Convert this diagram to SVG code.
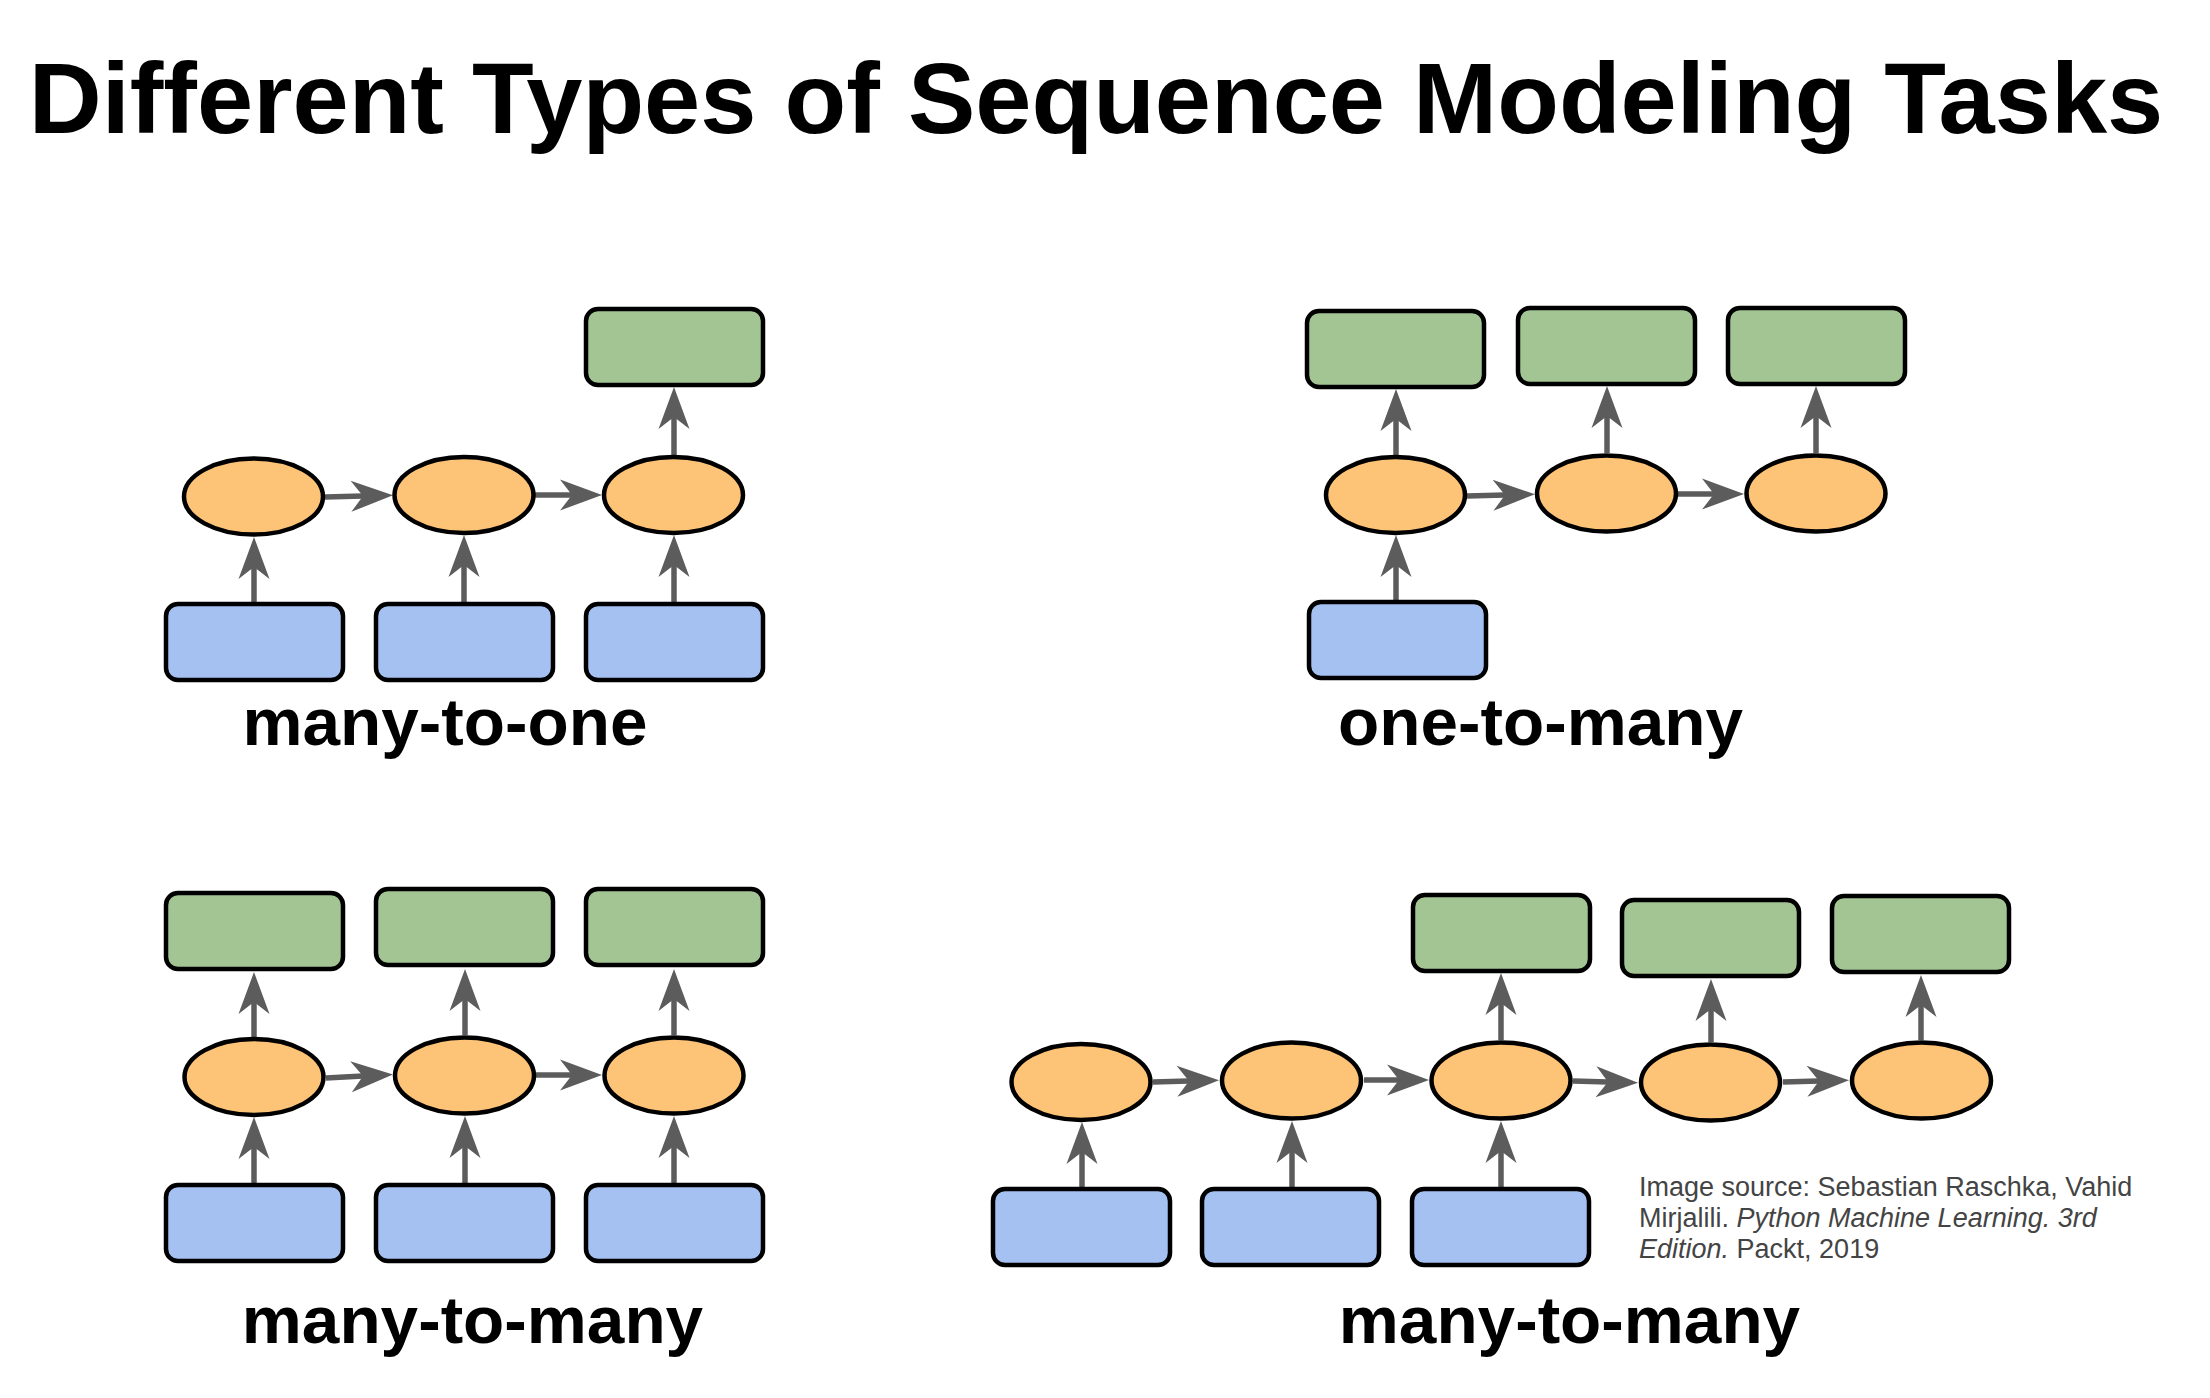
<svg xmlns="http://www.w3.org/2000/svg" width="2210" height="1398" viewBox="0 0 2210 1398">
<style>
.in{fill:#a5c1f2;stroke:#000;stroke-width:4.5}
.out{fill:#a3c594;stroke:#000;stroke-width:4.5}
.hid{fill:#fdc377;stroke:#000;stroke-width:4.5}
.c{stroke:#5c5c5c;stroke-width:5.5;fill:none;marker-end:url(#ah)}
.lbl{font-family:"Liberation Sans",Arial,sans-serif;font-weight:bold;font-size:67.5px;fill:#000;text-anchor:middle}
.title{font-family:"Liberation Sans",Arial,sans-serif;font-weight:bold;font-size:101px;fill:#000;text-anchor:middle}
.src{font-family:"Liberation Sans",Arial,sans-serif;font-size:27px;fill:#444}
</style>
<defs>
<marker id="ah" markerUnits="userSpaceOnUse" markerWidth="50" markerHeight="40" refX="12" refY="0" orient="auto" overflow="visible">
<path d="M42,0 L0,-15.5 L12,0 L0,15.5 Z" fill="#5c5c5c"/>
</marker>
<rect id="box" width="177" height="76" rx="12"/>
</defs>
<rect width="2210" height="1398" fill="#fff"/>
<text class="title" x="1096" y="133">Different Types of Sequence Modeling Tasks</text>

<g id="connectors">
<!-- many-to-one -->
<line class="c" x1="254" y1="604" x2="254" y2="567"/>
<line class="c" x1="464" y1="604" x2="464" y2="565"/>
<line class="c" x1="674" y1="604" x2="674" y2="565"/>
<line class="c" x1="674" y1="455" x2="674" y2="417"/>
<line class="c" x1="325" y1="497" x2="363" y2="496"/>
<line class="c" x1="535" y1="495" x2="572" y2="495"/>
<!-- one-to-many -->
<line class="c" x1="1396" y1="602" x2="1396" y2="565"/>
<line class="c" x1="1396" y1="455" x2="1396" y2="419"/>
<line class="c" x1="1607" y1="453" x2="1607" y2="416"/>
<line class="c" x1="1816" y1="453" x2="1816" y2="416"/>
<line class="c" x1="1467" y1="496" x2="1505" y2="495"/>
<line class="c" x1="1678" y1="494" x2="1714" y2="494"/>
<!-- many-to-many (left) -->
<line class="c" x1="254" y1="1185" x2="254" y2="1147"/>
<line class="c" x1="465" y1="1185" x2="465" y2="1146"/>
<line class="c" x1="674" y1="1185" x2="674" y2="1146"/>
<line class="c" x1="254" y1="1037" x2="254" y2="1002"/>
<line class="c" x1="465" y1="1035" x2="465" y2="999"/>
<line class="c" x1="674" y1="1035" x2="674" y2="999"/>
<line class="c" x1="326" y1="1078" x2="363" y2="1076"/>
<line class="c" x1="536" y1="1075" x2="572" y2="1075"/>
<!-- many-to-many (right) -->
<line class="c" x1="1082" y1="1189" x2="1082" y2="1152"/>
<line class="c" x1="1292" y1="1189" x2="1292" y2="1151"/>
<line class="c" x1="1501" y1="1189" x2="1501" y2="1151"/>
<line class="c" x1="1501" y1="1040" x2="1501" y2="1003"/>
<line class="c" x1="1711" y1="1042" x2="1711" y2="1009"/>
<line class="c" x1="1921" y1="1040" x2="1921" y2="1005"/>
<line class="c" x1="1153" y1="1082" x2="1189" y2="1081"/>
<line class="c" x1="1364" y1="1080" x2="1399" y2="1080"/>
<line class="c" x1="1573" y1="1081" x2="1608" y2="1082"/>
<line class="c" x1="1783" y1="1082" x2="1819" y2="1081"/>
</g>

<!-- many-to-one -->
<g id="m2o-out"><use href="#box" class="out" x="586" y="309"/></g>
<g id="m2o-h1"><ellipse class="hid" cx="253.5" cy="496.5" rx="69.5" ry="38"/></g>
<g id="m2o-h2"><ellipse class="hid" cx="464" cy="495" rx="69.5" ry="38"/></g>
<g id="m2o-h3"><ellipse class="hid" cx="673.5" cy="495" rx="69.5" ry="38"/></g>
<g id="m2o-in1"><use href="#box" class="in" x="166" y="604"/></g>
<g id="m2o-in2"><use href="#box" class="in" x="376" y="604"/></g>
<g id="m2o-in3"><use href="#box" class="in" x="586" y="604"/></g>
<text class="lbl" x="445" y="745">many-to-one</text>

<!-- one-to-many -->
<g id="o2m-out1"><use href="#box" class="out" x="1307" y="311"/></g>
<g id="o2m-out2"><use href="#box" class="out" x="1518" y="308"/></g>
<g id="o2m-out3"><use href="#box" class="out" x="1728" y="308"/></g>
<g id="o2m-h1"><ellipse class="hid" cx="1395.5" cy="495" rx="69.5" ry="38"/></g>
<g id="o2m-h2"><ellipse class="hid" cx="1606.5" cy="493.5" rx="69.5" ry="38"/></g>
<g id="o2m-h3"><ellipse class="hid" cx="1816" cy="493.5" rx="69.5" ry="38"/></g>
<g id="o2m-in1"><use href="#box" class="in" x="1309" y="602"/></g>
<text class="lbl" x="1540.5" y="745">one-to-many</text>

<!-- many-to-many left -->
<g id="m2mA-out1"><use href="#box" class="out" x="166" y="893"/></g>
<g id="m2mA-out2"><use href="#box" class="out" x="376" y="889"/></g>
<g id="m2mA-out3"><use href="#box" class="out" x="586" y="889"/></g>
<g id="m2mA-h1"><ellipse class="hid" cx="254" cy="1077" rx="69.5" ry="38"/></g>
<g id="m2mA-h2"><ellipse class="hid" cx="464.5" cy="1075.5" rx="69.5" ry="38"/></g>
<g id="m2mA-h3"><ellipse class="hid" cx="674" cy="1075.5" rx="69.5" ry="38"/></g>
<g id="m2mA-in1"><use href="#box" class="in" x="166" y="1185"/></g>
<g id="m2mA-in2"><use href="#box" class="in" x="376" y="1185"/></g>
<g id="m2mA-in3"><use href="#box" class="in" x="586" y="1185"/></g>
<text class="lbl" x="472.5" y="1343">many-to-many</text>

<!-- many-to-many right -->
<g id="m2mB-out1"><use href="#box" class="out" x="1413" y="895"/></g>
<g id="m2mB-out2"><use href="#box" class="out" x="1622" y="900"/></g>
<g id="m2mB-out3"><use href="#box" class="out" x="1832" y="896"/></g>
<g id="m2mB-h1"><ellipse class="hid" cx="1081" cy="1082" rx="69.5" ry="38"/></g>
<g id="m2mB-h2"><ellipse class="hid" cx="1291.5" cy="1080.5" rx="69.5" ry="38"/></g>
<g id="m2mB-h3"><ellipse class="hid" cx="1501" cy="1080.5" rx="69.5" ry="38"/></g>
<g id="m2mB-h4"><ellipse class="hid" cx="1710.5" cy="1082.5" rx="69.5" ry="38"/></g>
<g id="m2mB-h5"><ellipse class="hid" cx="1921.5" cy="1080.5" rx="69.5" ry="38"/></g>
<g id="m2mB-in1"><use href="#box" class="in" x="993" y="1189"/></g>
<g id="m2mB-in2"><use href="#box" class="in" x="1202" y="1189"/></g>
<g id="m2mB-in3"><use href="#box" class="in" x="1412" y="1189"/></g>
<text class="lbl" x="1569.5" y="1343">many-to-many</text>

<text class="src" x="1639" y="1196">Image source: Sebastian Raschka, Vahid</text>
<text class="src" x="1639" y="1227">Mirjalili. <tspan font-style="italic">Python Machine Learning. 3rd</tspan></text>
<text class="src" x="1639" y="1258"><tspan font-style="italic">Edition.</tspan> Packt, 2019</text>
</svg>
